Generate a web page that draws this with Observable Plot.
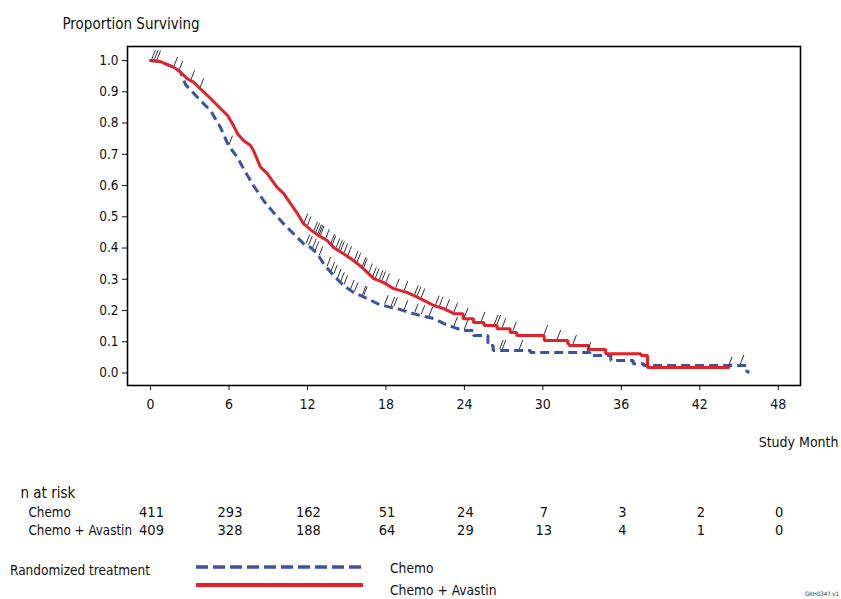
<!DOCTYPE html>
<html><head><meta charset="utf-8">
<script src="https://cdn.jsdelivr.net/npm/d3@7"></script>
<script src="https://cdn.jsdelivr.net/npm/@observablehq/plot@0.6"></script>
<style>
body{margin:0;background:#fff;}
#wrap{position:relative;width:841px;height:599px;overflow:hidden;background:#fff;}
#wrap svg{display:block;}
</style></head><body><div id="wrap"></div>
<script>
// ---- data ----
const seriesNames = ["Chemo", "Chemo + Avastin"];
const xTicks = [0, 6, 12, 18, 24, 30, 36, 42, 48];
const yTicks = [0, 0.1, 0.2, 0.3, 0.4, 0.5, 0.6, 0.7, 0.8, 0.9, 1.0];
const atRiskMonths = [0, 6, 12, 18, 24, 30, 36, 42, 48];
const atRiskChemo = [411, 293, 162, 51, 24, 7, 3, 2, 0];
const atRiskAvastin = [409, 328, 188, 64, 29, 13, 4, 1, 0];

const avastinTime = [0, 0.76, 1.15, 1.76, 2.29, 2.83, 3.29, 3.82, 4.36, 5.12, 5.89, 6.35, 6.65, 7.11, 7.65, 7.87, 8.41, 8.92, 9.30, 9.68, 10.17, 10.70, 11.22, 11.70, 12.23, 12.74, 13.5, 14.0, 14.76, 15.52, 16.28, 16.57, 17.07, 17.8, 18.58, 19.6, 20.64, 21.66, 22.43, 23.2, 23.9, 24.7, 25.5, 26.5, 27.5, 28.0, 30.1, 31.9, 32.0, 33.5, 34.8, 37.5, 38.0, 44.2];
const avastinSurv = [1.0, 0.997, 0.989, 0.979, 0.963, 0.941, 0.931, 0.909, 0.888, 0.856, 0.824, 0.792, 0.766, 0.744, 0.728, 0.712, 0.659, 0.639, 0.616, 0.594, 0.575, 0.543, 0.511, 0.478, 0.459, 0.443, 0.424, 0.402, 0.382, 0.360, 0.334, 0.322, 0.302, 0.290, 0.270, 0.258, 0.238, 0.216, 0.206, 0.190, 0.174, 0.162, 0.152, 0.142, 0.130, 0.120, 0.104, 0.094, 0.088, 0.075, 0.062, 0.056, 0.018, 0.018];

const chemoTime = [0, 0.76, 1.15, 1.76, 2.29, 2.68, 3.82, 4.59, 5.35, 5.96, 6.65, 7.11, 7.87, 8.64, 9.40, 10.17, 10.93, 11.70, 12.23, 12.74, 13.23, 13.99, 14.76, 15.52, 16.59, 17.35, 18.35, 19.11, 20.1, 20.64, 21.66, 22.43, 23.2, 23.9, 24.7, 25.8, 26.2, 29.05, 33.6, 35.2, 36.9, 37.7, 45.6, 45.8];
const chemoSurv = [1.0, 0.997, 0.989, 0.979, 0.963, 0.923, 0.872, 0.840, 0.786, 0.728, 0.690, 0.654, 0.600, 0.552, 0.514, 0.478, 0.446, 0.414, 0.402, 0.382, 0.350, 0.312, 0.280, 0.258, 0.238, 0.222, 0.210, 0.203, 0.190, 0.184, 0.174, 0.158, 0.146, 0.136, 0.120, 0.088, 0.072, 0.066, 0.056, 0.040, 0.030, 0.024, 0.003, 0.003];

const avastinCensor = [0.1, 0.3, 0.5, 1.8, 2.2, 3.1, 3.8, 11.75, 12.0, 12.5, 12.65, 12.8, 12.9, 13.0, 13.4, 13.8, 13.9, 14.2, 14.4, 14.55, 14.8, 15.1, 15.6, 15.8, 16.2, 16.3, 16.7, 17.0, 17.2, 17.5, 17.7, 18.0, 18.75, 19.4, 20.2, 20.4, 20.7, 21.8, 22.1, 22.6, 23.2, 24.0, 25.3, 26.3, 26.5, 26.9, 27.7, 30.1, 31.1, 32.3, 44.2];
const chemoCensor = [6.0, 11.9, 12.1, 12.4, 12.6, 12.9, 13.5, 13.8, 14.0, 14.3, 14.55, 14.8, 15.3, 15.6, 16.2, 16.3, 17.9, 18.4, 18.6, 19.4, 20.2, 20.7, 21.3, 23.2, 24.0, 26.7, 26.9, 28.2, 33.4, 45.1];

// month from which the drawn curve shows distinct steps
const stepFromAvastin = 23.5;
const stepFromChemo = 24.0;

// ---- styling ----
const FONT = '"DejaVu Sans Condensed","Liberation Sans Narrow","Arial Narrow",sans-serif';
const BLUE = "#3a54a5";
const RED = "#e3212b";
const W = 841, H = 545;

// build drawn vertices: fine jagged part as polyline, coarse tail with explicit step corners
function vertices(T, S, stepFrom) {
  const out = [];
  T.forEach((t, i) => {
    if (i > 0 && t >= stepFrom) out.push({t, s: S[i - 1]});
    out.push({t, s: S[i]});
  });
  return out;
}
function valueAt(P, t) {
  for (let i = 1; i < P.length; i++) {
    const a = P[i - 1], b = P[i];
    if (t <= b.t) {
      if (b.t === a.t) return a.s;
      return a.s + (b.s - a.s) * (t - a.t) / (b.t - a.t);
    }
  }
  return P[P.length - 1].s;
}
const chemoPath = vertices(chemoTime, chemoSurv, stepFromChemo);
const avastinPath = vertices(avastinTime, avastinSurv, stepFromAvastin);
const chemoCens = chemoCensor.map(t => ({t, s: valueAt(chemoPath, t)}));
const avastinCens = avastinCensor.map(t => ({t, s: valueAt(avastinPath, t)}));

const slash = {draw(ctx, size) { ctx.moveTo(0, -1.5); ctx.lineTo(3.5, -10.5); }};

const chart = Plot.plot({
  width: W, height: H,
  marginLeft: 127, marginRight: 41, marginTop: 46, marginBottom: H - 385,
  style: {fontFamily: FONT, fontSize: "13.5px", color: "#111", background: "white", overflow: "visible"},
  x: {domain: [-1.76, 49.7]},
  y: {domain: [-0.04, 1.045]},
  marks: [
    Plot.axisX({ticks: xTicks, tickSize: 5, tickPadding: 9, label: null, fontSize: 14}),
    Plot.axisY({ticks: yTicks, tickSize: 5, tickPadding: 4, tickFormat: d3.format(".1f"), label: null, fontSize: 13.5}),
    Plot.line(chemoPath, {x: "t", y: "s", stroke: BLUE, strokeWidth: 3, strokeDasharray: "9,5", strokeLinejoin: "miter", strokeLinecap: "butt"}),
    Plot.line(avastinPath, {x: "t", y: "s", stroke: RED, strokeWidth: 3, strokeLinejoin: "miter"}),
    Plot.dot(chemoCens, {x: "t", y: "s", symbol: slash, stroke: "#333", strokeWidth: 1, fill: "none"}),
    Plot.dot(avastinCens, {x: "t", y: "s", symbol: slash, stroke: "#333", strokeWidth: 1, fill: "none"}),
    Plot.frame({stroke: "#000", strokeWidth: 1.6}),
    Plot.text(["Proportion Surviving"], {text: d => d, frameAnchor: "top-left", lineAnchor: "middle", dx: -65, dy: -22, textAnchor: "start", fontSize: 15}),
    Plot.text(["Study Month"], {text: d => d, frameAnchor: "bottom-right", lineAnchor: "middle", dx: 38, dy: 57, textAnchor: "end", fontSize: 14}),
    Plot.text(["n at risk"], {text: d => d, frameAnchor: "bottom-left", lineAnchor: "middle", dx: -107, dy: 108, textAnchor: "start", fontSize: 15}),
    Plot.text([seriesNames[0]], {text: d => d, frameAnchor: "bottom-left", lineAnchor: "middle", dx: -99, dy: 127, textAnchor: "start", fontSize: 13.3}),
    Plot.text([seriesNames[1]], {text: d => d, frameAnchor: "bottom-left", lineAnchor: "middle", dx: -99, dy: 145, textAnchor: "start", fontSize: 13.3}),
    Plot.text(atRiskMonths, {x: d => d, text: (d, i) => atRiskChemo[i], frameAnchor: "bottom", lineAnchor: "middle", dy: 127, dx: 1, fontSize: 14.5}),
    Plot.text(atRiskMonths, {x: d => d, text: (d, i) => atRiskAvastin[i], frameAnchor: "bottom", lineAnchor: "middle", dy: 145, dx: 1, fontSize: 14.5})
  ]
});
const wrap = document.getElementById("wrap");
wrap.appendChild(chart);

// ---- legend ----
const leg = d3.create("svg").attr("width", W).attr("height", 599 - H)
  .style("font-family", FONT).style("display", "block");
leg.append("text").attr("x", 10).attr("y", 26).attr("dominant-baseline", "middle")
  .attr("font-size", 13.5).attr("fill", "#111").text("Randomized treatment");
const legendRows = [
  {name: seriesNames[0], color: BLUE, dash: "12,5", ly: 22, ty: 24, w: 3.5},
  {name: seriesNames[1], color: RED, dash: null, ly: 40, ty: 46, w: 4}
];
for (const r of legendRows) {
  const ln = leg.append("line").attr("x1", 196).attr("x2", 363).attr("y1", r.ly).attr("y2", r.ly)
    .attr("stroke", r.color).attr("stroke-width", r.w);
  if (r.dash) ln.attr("stroke-dasharray", r.dash);
  leg.append("text").attr("x", 390).attr("y", r.ty).attr("dominant-baseline", "middle")
    .attr("font-size", 13.7).attr("fill", "#111").text(r.name);
}
leg.append("text").attr("x", 839).attr("y", 51).attr("text-anchor", "end")
  .attr("font-size", 6).attr("fill", "#333").text("GRH0347 v1");
wrap.appendChild(leg.node());
</script></body></html>
